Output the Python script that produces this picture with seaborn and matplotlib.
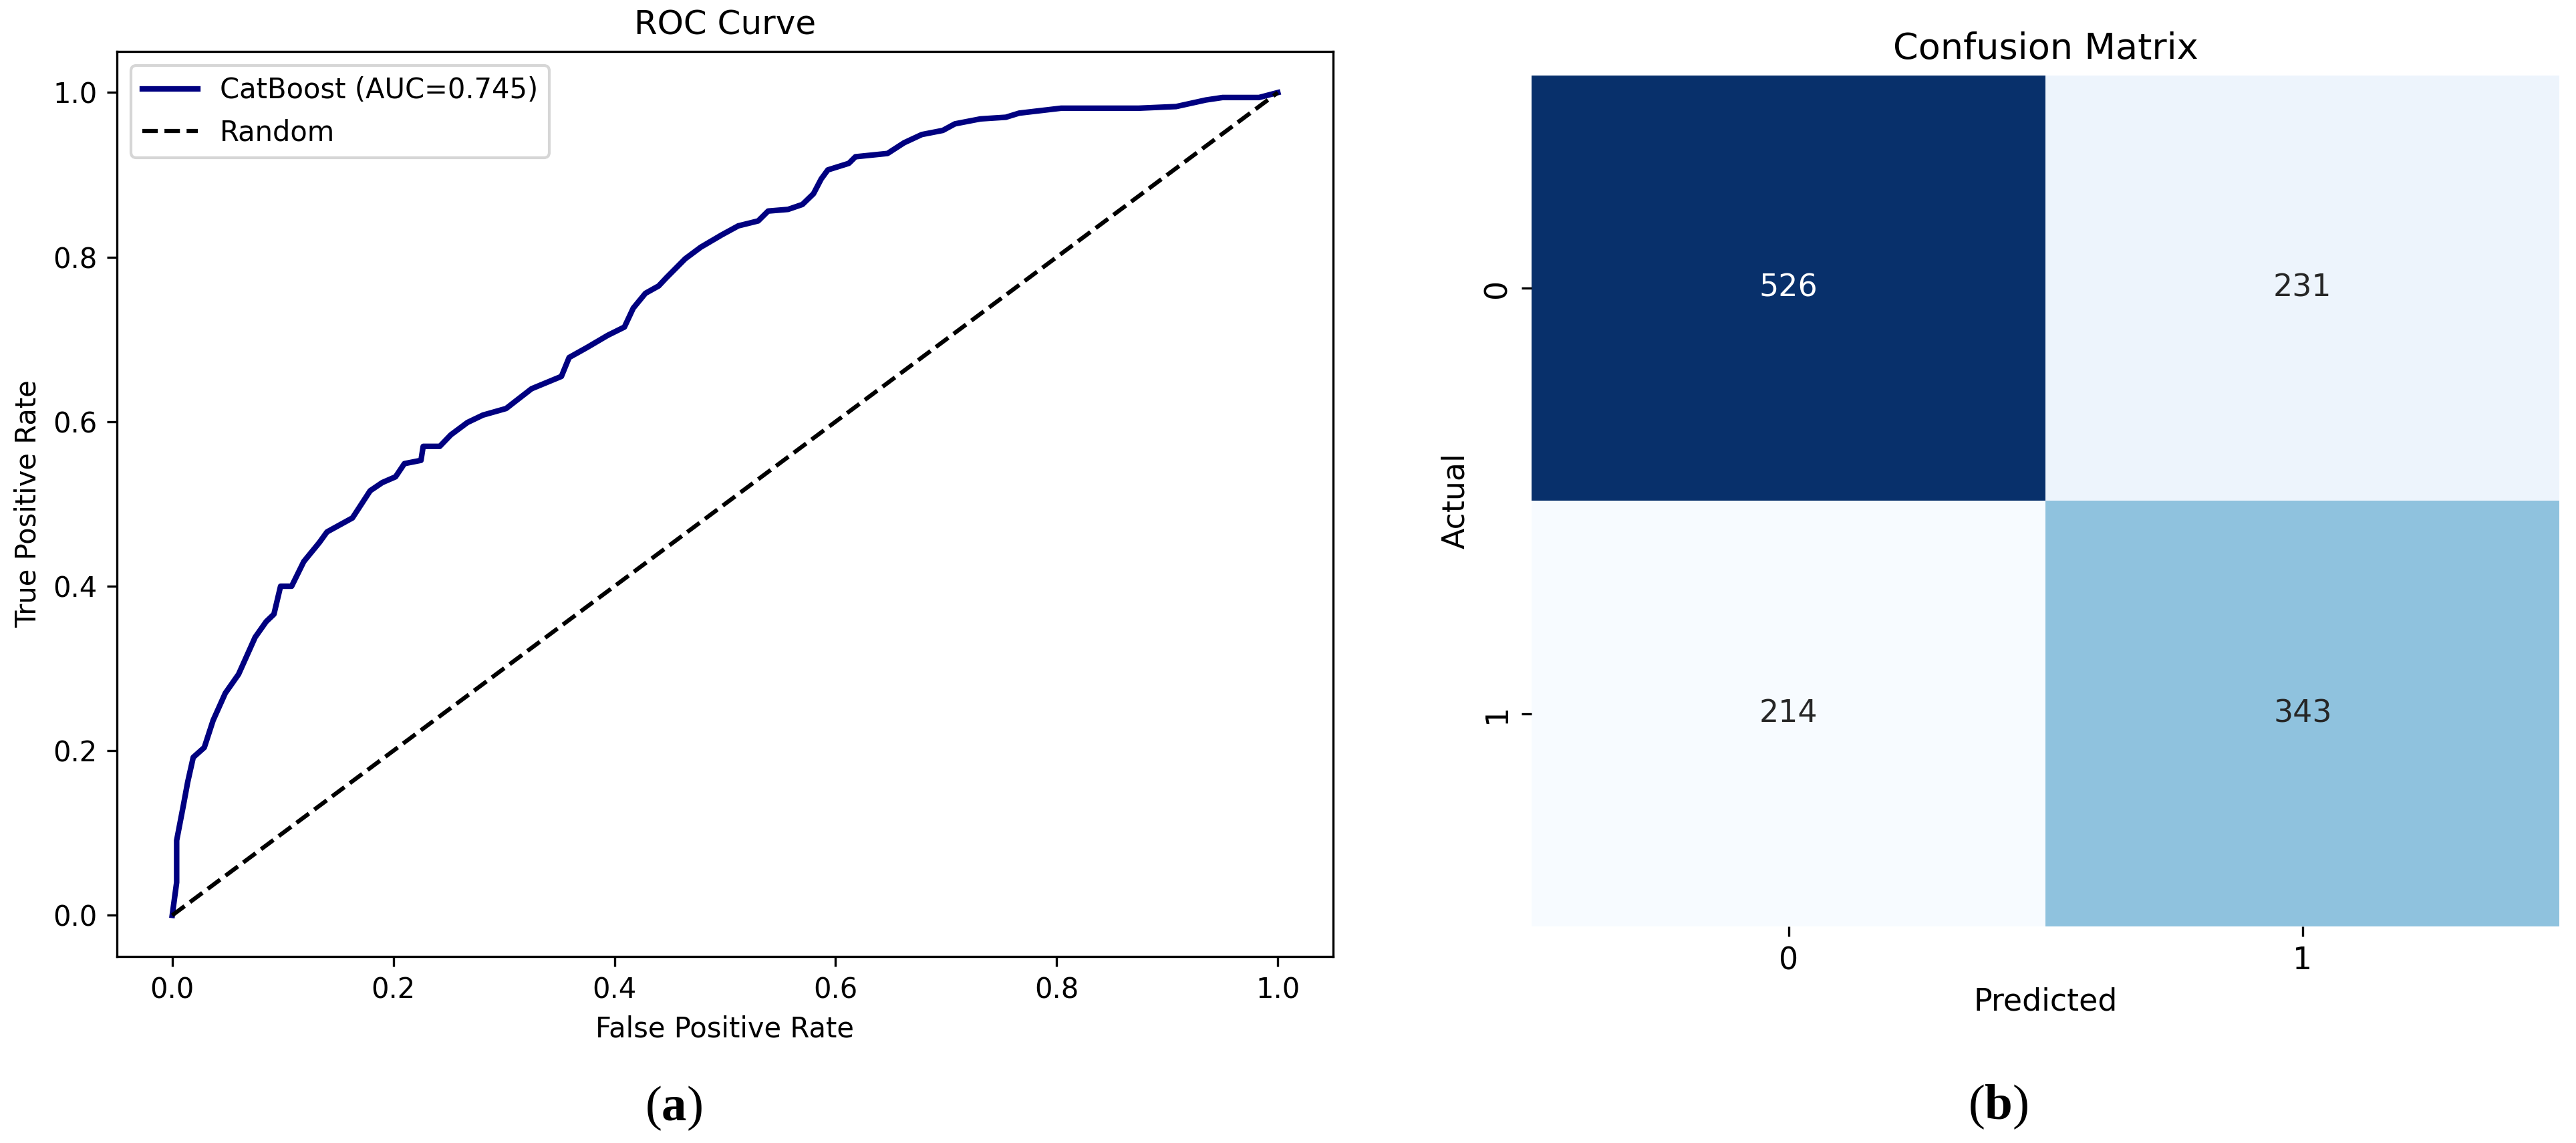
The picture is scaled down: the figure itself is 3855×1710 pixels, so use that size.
import numpy as np
import seaborn as sns
import matplotlib.pyplot as plt

# ROC-Kurve
fpr = [0.0, 0.004, 0.004, 0.010, 0.014, 0.019, 0.029, 0.037, 0.048, 0.060, 0.067,
       0.075, 0.085, 0.092, 0.098, 0.108, 0.119, 0.133, 0.140, 0.163, 0.179,
       0.190, 0.202, 0.210, 0.225, 0.227, 0.242, 0.252, 0.267, 0.281, 0.302,
       0.325, 0.352, 0.359, 0.375, 0.394, 0.409, 0.417, 0.428, 0.440, 0.447,
       0.464, 0.478, 0.497, 0.512, 0.530, 0.539, 0.557, 0.570, 0.580, 0.587,
       0.593, 0.612, 0.618, 0.647, 0.662, 0.678, 0.697, 0.708, 0.731, 0.754,
       0.766, 0.804, 0.874, 0.908, 0.935, 0.950, 0.983, 1.0]
tpr = [0.0, 0.040, 0.091, 0.133, 0.162, 0.192, 0.204, 0.237, 0.270, 0.293, 0.314,
       0.338, 0.357, 0.366, 0.400, 0.400, 0.430, 0.453, 0.466, 0.483, 0.516,
       0.526, 0.533, 0.549, 0.553, 0.570, 0.570, 0.584, 0.599, 0.608, 0.616,
       0.640, 0.655, 0.678, 0.690, 0.705, 0.715, 0.738, 0.756, 0.765, 0.775,
       0.798, 0.812, 0.827, 0.838, 0.844, 0.856, 0.858, 0.864, 0.877, 0.895,
       0.906, 0.914, 0.922, 0.926, 0.939, 0.949, 0.954, 0.962, 0.968, 0.970,
       0.975, 0.981, 0.981, 0.983, 0.991, 0.994, 0.994, 1.0]
random_x = [0, 1]
random_y = [0, 1]
auc_label = 'CatBoost (AUC=0.745)'

# Konfusionsmatrix
cm = np.array([[526, 231],
               [214, 343]])
class_labels = ['0', '1']

plt.rcParams['mathtext.fontset'] = 'custom'
plt.rcParams['mathtext.rm'] = 'Liberation Serif'
plt.rcParams['mathtext.bf'] = 'Liberation Serif:bold'

fig = plt.figure(figsize=(12.85, 5.7), dpi=300)

# (a) ROC
ax1 = fig.add_axes([0.0454, 0.1632, 0.4721, 0.7918])
sns.lineplot(x=fpr, y=tpr, sort=False, estimator=None, color='navy', lw=2,
             label=auc_label, ax=ax1)
ax1.plot(random_x, random_y, 'k--', lw=1.5, label='Random')
ax1.set_xlim(-0.05, 1.05)
ax1.set_ylim(-0.05, 1.05)
ax1.set_xlabel('False Positive Rate')
ax1.set_ylabel('True Positive Rate')
ax1.set_title('ROC Curve')
ax1.legend(loc='upper left')

# (b) Konfusionsmatrix
ax2 = fig.add_axes([0.5946, 0.1895, 0.3990, 0.7444])
sns.heatmap(cm, annot=True, fmt='d', cmap='Blues', cbar=False,
            xticklabels=class_labels, yticklabels=class_labels,
            annot_kws={'fontsize': 11}, ax=ax2)
ax2.set_title('Confusion Matrix', fontsize=13)
ax2.set_xlabel('Predicted', fontsize=11)
ax2.set_ylabel('Actual', fontsize=11)
ax2.tick_params(labelsize=11)

fig.text(1008 / 3855, 1 - 1657 / 1710, r'$\mathrm{(}\mathbf{a}\mathrm{)}$',
         fontsize=18, ha='center', va='center')
fig.text(2990 / 3855, 1 - 1655 / 1710, r'$\mathrm{(}\mathbf{b}\mathrm{)}$',
         fontsize=18, ha='center', va='center')

fig.savefig('out.png', dpi=300)
